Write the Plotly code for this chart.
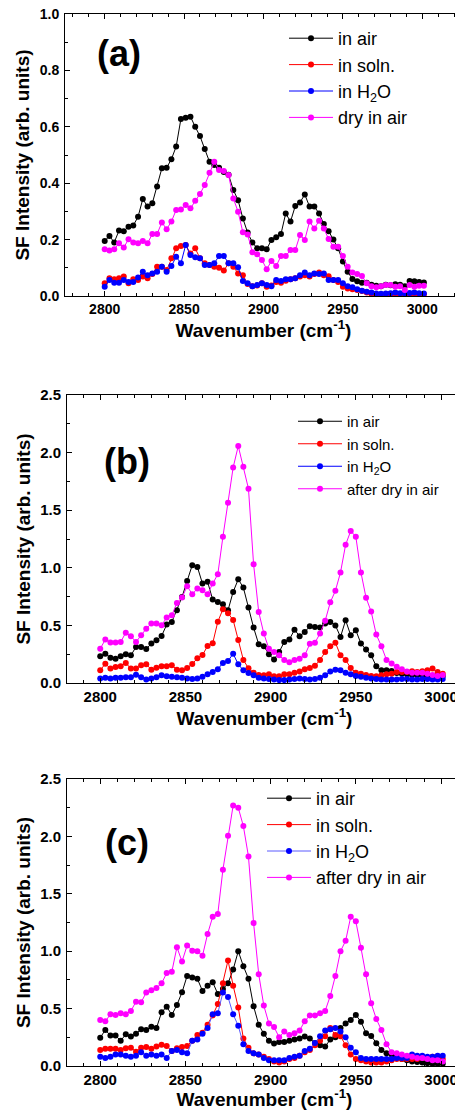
import plotly.graph_objects as go

# ---------------- data ----------------
wavenumber = [2800, 2803, 2806, 2809, 2812, 2815, 2818, 2821, 2824, 2827,
              2830, 2833, 2836, 2839, 2842, 2845, 2848, 2851, 2854, 2857,
              2860, 2863, 2866, 2869, 2872, 2875, 2878, 2881, 2884, 2887,
              2890, 2893, 2896, 2899, 2902, 2905, 2908, 2911, 2914, 2917,
              2920, 2923, 2926, 2929, 2932, 2935, 2938, 2941, 2944, 2947,
              2950, 2953, 2956, 2959, 2962, 2965, 2968, 2971, 2974, 2977,
              2980, 2983, 2986, 2989, 2992, 2995, 2998, 3001]

# panel (a)
a_air = [0.195, 0.213, 0.19, 0.232, 0.23, 0.246, 0.25, 0.281, 0.344, 0.317,
         0.329, 0.388, 0.453, 0.455, 0.485, 0.53, 0.628, 0.632, 0.636, 0.6,
         0.567, 0.521, 0.476, 0.465, 0.455, 0.44, 0.43, 0.376, 0.34, 0.275,
         0.225, 0.19, 0.169, 0.169, 0.166, 0.199, 0.208, 0.22, 0.293, 0.264,
         0.319, 0.332, 0.36, 0.317, 0.317, 0.293, 0.255, 0.23, 0.2, 0.169,
         0.122, 0.086, 0.06, 0.052, 0.047, 0.047, 0.04, 0.036, 0.035, 0.04,
         0.038, 0.042, 0.04, 0.035, 0.053, 0.052, 0.05, 0.048]
a_soln = [0.045, 0.063, 0.059, 0.063, 0.069, 0.045, 0.059, 0.057, 0.069, 0.063,
          0.078, 0.104, 0.104, 0.092, 0.134, 0.169, 0.177, 0.181, 0.151, 0.169,
          0.134, 0.116, 0.11, 0.104, 0.1, 0.09, 0.116, 0.104, 0.08, 0.074,
          0.043, 0.035, 0.037, 0.045, 0.033, 0.037, 0.05, 0.047, 0.054, 0.059,
          0.063, 0.069, 0.074, 0.069, 0.078, 0.083, 0.074, 0.07, 0.057, 0.05,
          0.033, 0.027, 0.024, 0.021, 0.018, 0.012, 0.007, 0.006, 0.005, 0.006,
          0.007, 0.006, 0.005, 0.006, 0.007, 0.006, 0.005, 0.006]
a_h2o = [0.033, 0.057, 0.047, 0.047, 0.057, 0.05, 0.05, 0.066, 0.086, 0.074,
         0.08, 0.086, 0.104, 0.086, 0.106, 0.139, 0.116, 0.181, 0.145, 0.137,
         0.134, 0.11, 0.11, 0.116, 0.142, 0.142, 0.116, 0.116, 0.102, 0.053,
         0.045, 0.035, 0.039, 0.045, 0.039, 0.035, 0.057, 0.053, 0.059, 0.059,
         0.063, 0.074, 0.083, 0.074, 0.08, 0.078, 0.08, 0.057, 0.057, 0.057,
         0.045, 0.035, 0.031, 0.024, 0.019, 0.015, 0.012, 0.009, 0.008, 0.009,
         0.01, 0.012, 0.01, 0.009, 0.011, 0.012, 0.01, 0.009]
a_dry = [0.166, 0.161, 0.166, 0.187, 0.172, 0.201, 0.19, 0.187, 0.195, 0.187,
         0.22, 0.22, 0.261, 0.237, 0.264, 0.305, 0.307, 0.323, 0.311, 0.338,
         0.362, 0.394, 0.437, 0.476, 0.447, 0.443, 0.429, 0.346, 0.299, 0.226,
         0.218, 0.155, 0.148, 0.128, 0.095, 0.124, 0.106, 0.142, 0.142, 0.163,
         0.163, 0.216, 0.199, 0.264, 0.239, 0.267, 0.239, 0.202, 0.175, 0.175,
         0.142, 0.104, 0.083, 0.078, 0.071, 0.045, 0.035, 0.031, 0.035, 0.039,
         0.039, 0.033, 0.035, 0.021, 0.039, 0.033, 0.036, 0.036]

# panel (b)
b_air = [0.232, 0.255, 0.22, 0.211, 0.232, 0.249, 0.24, 0.313, 0.313, 0.295,
         0.342, 0.371, 0.408, 0.507, 0.53, 0.632, 0.747, 0.886, 1.023, 1.008,
         0.863, 0.878, 0.724, 0.704, 0.684, 0.632, 0.791, 0.9, 0.828, 0.655,
         0.481, 0.336, 0.319, 0.249, 0.203, 0.27, 0.356, 0.377, 0.463, 0.406,
         0.443, 0.492, 0.487, 0.481, 0.516, 0.53, 0.5, 0.4, 0.545, 0.414,
         0.458, 0.342, 0.29, 0.24, 0.145, 0.11, 0.11, 0.105, 0.087, 0.08,
         0.075, 0.07, 0.07, 0.065, 0.065, 0.06, 0.06, 0.06]
b_soln = [0.11, 0.168, 0.125, 0.139, 0.145, 0.174, 0.125, 0.125, 0.154, 0.162,
          0.116, 0.133, 0.145, 0.145, 0.154, 0.116, 0.11, 0.13, 0.165, 0.214,
          0.243, 0.321, 0.345, 0.532, 0.64, 0.605, 0.547, 0.373, 0.2, 0.128,
          0.09, 0.07, 0.067, 0.075, 0.058, 0.058, 0.075, 0.075, 0.09, 0.1,
          0.12, 0.13, 0.15, 0.2, 0.27, 0.32, 0.35, 0.24, 0.2, 0.13,
          0.09, 0.08, 0.07, 0.06, 0.058, 0.067, 0.075, 0.081, 0.096, 0.096,
          0.096, 0.101, 0.096, 0.101, 0.11, 0.125, 0.096, 0.081]
b_h2o = [0.04, 0.045, 0.04, 0.045, 0.045, 0.05, 0.05, 0.072, 0.05, 0.03,
         0.04, 0.05, 0.067, 0.058, 0.055, 0.05, 0.045, 0.04, 0.035, 0.04,
         0.055, 0.075, 0.096, 0.12, 0.174, 0.191, 0.255, 0.162, 0.11, 0.087,
         0.067, 0.046, 0.04, 0.035, 0.03, 0.025, 0.025, 0.03, 0.035, 0.04,
         0.035, 0.03, 0.035, 0.045, 0.067, 0.1, 0.115, 0.11, 0.09, 0.075,
         0.06, 0.055, 0.045, 0.04, 0.035, 0.03, 0.03, 0.03, 0.03, 0.035,
         0.035, 0.03, 0.03, 0.035, 0.035, 0.03, 0.03, 0.035]
b_dry = [0.298, 0.377, 0.351, 0.351, 0.356, 0.437, 0.406, 0.356, 0.414, 0.472,
         0.516, 0.516, 0.501, 0.568, 0.588, 0.695, 0.742, 0.84, 0.771, 0.82,
         0.805, 0.771, 0.863, 0.944, 1.269, 1.564, 1.871, 2.057, 1.877, 1.686,
         1.031, 0.617, 0.429, 0.298, 0.27, 0.24, 0.2, 0.18, 0.2, 0.21,
         0.24, 0.34, 0.35, 0.43, 0.54, 0.7, 0.8, 0.96, 1.2, 1.32,
         1.27, 0.96, 0.74, 0.62, 0.42, 0.32, 0.2, 0.17, 0.14, 0.12,
         0.1, 0.09, 0.09, 0.09, 0.08, 0.07, 0.06, 0.07]

# panel (c)
c_air = [0.247, 0.314, 0.265, 0.265, 0.22, 0.276, 0.256, 0.28, 0.32, 0.314,
         0.343, 0.33, 0.468, 0.517, 0.445, 0.532, 0.642, 0.785, 0.77, 0.76,
         0.654, 0.7, 0.73, 0.628, 0.67, 0.72, 0.84, 1.0, 0.87, 0.76,
         0.52, 0.36, 0.28, 0.22, 0.195, 0.21, 0.21, 0.22, 0.23, 0.24,
         0.256, 0.24, 0.2, 0.18, 0.17, 0.23, 0.25, 0.33, 0.37, 0.4,
         0.445, 0.386, 0.285, 0.262, 0.198, 0.14, 0.11, 0.1, 0.08, 0.06,
         0.05, 0.04, 0.035, 0.03, 0.025, 0.02, 0.02, 0.02]
c_soln = [0.14, 0.15, 0.15, 0.15, 0.14, 0.155, 0.16, 0.125, 0.16, 0.165,
          0.15, 0.17, 0.185, 0.175, 0.13, 0.155, 0.165, 0.175, 0.22, 0.27,
          0.29, 0.36, 0.44, 0.54, 0.72, 0.92, 0.7, 0.51, 0.24, 0.16,
          0.11, 0.1, 0.08, 0.06, 0.04, 0.03, 0.04, 0.06, 0.07, 0.09,
          0.12, 0.14, 0.18, 0.22, 0.26, 0.33, 0.27, 0.26, 0.18, 0.1,
          0.06, 0.05, 0.04, 0.03, 0.03, 0.03, 0.04, 0.05, 0.06, 0.06,
          0.06, 0.06, 0.06, 0.07, 0.07, 0.08, 0.07, 0.06]
c_h2o = [0.08, 0.07, 0.08, 0.1, 0.1, 0.09, 0.08, 0.09, 0.12, 0.09,
         0.1, 0.09, 0.1, 0.07, 0.13, 0.14, 0.12, 0.11, 0.22, 0.23,
         0.28, 0.33, 0.45, 0.46, 0.64, 0.6, 0.45, 0.35, 0.19, 0.13,
         0.11, 0.1, 0.07, 0.05, 0.05, 0.05, 0.05, 0.07, 0.08, 0.09,
         0.13, 0.15, 0.2, 0.26, 0.31, 0.32, 0.33, 0.3, 0.25, 0.16,
         0.12, 0.07, 0.06, 0.06, 0.06, 0.06, 0.06, 0.06, 0.07, 0.07,
         0.07, 0.1, 0.09, 0.09, 0.08, 0.08, 0.09, 0.09]
c_dry = [0.4, 0.39, 0.45, 0.445, 0.46, 0.45, 0.48, 0.56, 0.555, 0.64,
         0.66, 0.68, 0.72, 0.81, 0.82, 1.035, 0.91, 1.05, 1.005, 1.0,
         0.96, 1.15, 1.3, 1.325, 1.71, 2.005, 2.27, 2.25, 2.09, 1.825,
         1.245, 0.8, 0.526, 0.37, 0.34, 0.25, 0.3, 0.27, 0.285, 0.31,
         0.39, 0.44, 0.44, 0.46, 0.48, 0.61, 0.785, 1.0, 1.09, 1.3,
         1.26, 1.03, 0.8, 0.546, 0.41, 0.314, 0.19, 0.12, 0.11, 0.1,
         0.09, 0.08, 0.07, 0.07, 0.06, 0.05, 0.05, 0.04]

names_a = ["in air", "in soln.", "in H<sub>2</sub>O", "dry in air"]
names_bc = ["in air", "in soln.", "in H<sub>2</sub>O", "after dry in air"]
colors = ["#000000", "#FF0000", "#0000FF", "#FF00FF"]
panel_labels = ["(a)", "(b)", "(c)"]

x_ticks = [2800, 2850, 2900, 2950, 3000]
y_ticks_a = [0.0, 0.2, 0.4, 0.6, 0.8, 1.0]
y_ticks_bc = [0.0, 0.5, 1.0, 1.5, 2.0, 2.5]

# ---------------- figure ----------------
# page body has an 8 px default margin; the figure is sized to fill the rest
OFF = 8
W, H = 463 - OFF, 1110 - OFF
FONT = "Liberation Sans, Arial, sans-serif"

fig = go.Figure()

panels = [
    ("x", "y", "legend", names_a, [a_air, a_soln, a_h2o, a_dry]),
    ("x2", "y2", "legend2", names_bc, [b_air, b_soln, b_h2o, b_dry]),
    ("x3", "y3", "legend3", names_bc, [c_air, c_soln, c_h2o, c_dry]),
]
for xa, ya, lg, names, series in panels:
    for name, vals, col in zip(names, series, colors):
        linecol = col
        if lg == "legend3" and col == "#0000FF":
            linecol = "#5a5aff"
        fig.add_trace(go.Scatter(
            x=wavenumber, y=vals, name=name, mode="lines+markers",
            xaxis=xa, yaxis=ya, legend=lg,
            line=dict(color=linecol, width=1),
            marker=dict(color=col, size=6, line=dict(width=0)),
        ))


def px_x(p):
    return (p - OFF) / W


def px_y(p):
    return 1 - (p - OFF) / H


axis_common = dict(
    showline=True, linecolor="black", linewidth=1, mirror="ticks",
    ticks="inside", ticklen=5, tickcolor="black", tickwidth=1,
    showgrid=False, zeroline=False, automargin=False,
    ticklabeloverflow="allow",
)

xtitle = "Wavenumber (cm<sup>-1</sup>)"
ytitle = "SF Intensity (arb. units)"


def bold_font(size):
    return dict(family=FONT, size=size, color="black", weight="bold")


xminor = dict(ticks="inside", dtick=10, tick0=2800, ticklen=3, tickcolor="black")

fig.update_layout(
    xaxis=dict(domain=[px_x(65), px_x(462)], range=[2775, 3025], anchor="y",
               tickvals=x_ticks, minor=xminor,
               tickfont=bold_font(14), ticklabelstandoff=0,
               title=dict(text=xtitle, standoff=6, font=bold_font(19)),
               **axis_common),
    xaxis2=dict(domain=[px_x(67), px_x(462)], range=[2780.5, 3012.3], anchor="y2",
                tickvals=x_ticks, minor=xminor,
                tickfont=bold_font(15), ticklabelstandoff=0,
                title=dict(text=xtitle, standoff=2, font=bold_font(19)),
                **axis_common),
    xaxis3=dict(domain=[px_x(67), px_x(462)], range=[2780.5, 3012.3], anchor="y3",
                tickvals=x_ticks, minor=xminor,
                tickfont=bold_font(15), ticklabelstandoff=0,
                title=dict(text=xtitle, standoff=1, font=bold_font(19)),
                **axis_common),
    yaxis=dict(domain=[px_y(296), px_y(14)], range=[0, 1.0001], anchor="x",
               tickvals=y_ticks_a, ticktext=["%.1f" % v for v in y_ticks_a],
               minor=dict(ticks="inside", dtick=0.1, tick0=0, ticklen=3, tickcolor="black"),
               tickfont=bold_font(14), ticklabelstandoff=2,
               title=dict(text=ytitle, standoff=5, font=bold_font(19)),
               **axis_common),
    yaxis2=dict(domain=[px_y(683), px_y(395)], range=[0, 2.5001], anchor="x2",
                tickvals=y_ticks_bc, ticktext=["%.1f" % v for v in y_ticks_bc],
                minor=dict(ticks="inside", dtick=0.25, tick0=0, ticklen=3, tickcolor="black"),
                tickfont=bold_font(15), ticklabelstandoff=2,
                title=dict(text=ytitle, standoff=4, font=bold_font(19)),
                **axis_common),
    yaxis3=dict(domain=[px_y(1066), px_y(779)], range=[0, 2.5001], anchor="x3",
                tickvals=y_ticks_bc, ticktext=["%.1f" % v for v in y_ticks_bc],
                minor=dict(ticks="inside", dtick=0.25, tick0=0, ticklen=3, tickcolor="black"),
                tickfont=bold_font(15), ticklabelstandoff=2,
                title=dict(text=ytitle, standoff=4, font=bold_font(19)),
                **axis_common),
)

legend_common = dict(xanchor="left", yanchor="top", bgcolor="rgba(0,0,0,0)",
                     borderwidth=0, itemwidth=44, tracegroupgap=0,
                     itemclick=False, itemdoubleclick=False)
fig.update_layout(
    legend=dict(x=px_x(284), y=px_y(20), font=dict(family=FONT, size=18, color="black"),
                **legend_common),
    legend2=dict(x=px_x(293), y=px_y(405), font=dict(family=FONT, size=15, color="black"),
                 **legend_common),
    legend3=dict(x=px_x(262), y=px_y(780), font=dict(family=FONT, size=18, color="black"),
                 **legend_common),
)

label_pos = [(119, 54), (127, 461), (127, 842)]
for text, (cx, cy) in zip(panel_labels, label_pos):
    fig.add_annotation(text=text, x=px_x(cx), y=px_y(cy), xref="paper", yref="paper",
                       xanchor="center", yanchor="middle", showarrow=False,
                       font=dict(family=FONT, size=36, color="black", weight="bold"))

fig.update_layout(
    width=W, height=H, template="none",
    margin=dict(l=0, r=0, t=0, b=0, autoexpand=False),
    paper_bgcolor="white", plot_bgcolor="white",
    showlegend=True,
)

fig.write_html("out.html")
